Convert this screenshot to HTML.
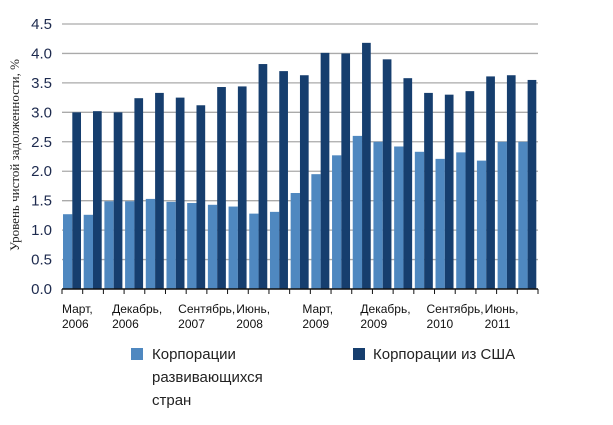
<!DOCTYPE html>
<html><head><meta charset="utf-8"><style>
body{margin:0;background:#fff;}
svg{display:block;font-family:"Liberation Sans",sans-serif;}
</style></head><body>
<svg id="chart" width="613" height="425" viewBox="0 0 613 425" xmlns="http://www.w3.org/2000/svg">
<g id="grid"></g>
<g id="bars"></g>
<g id="axes"></g>
<text transform="translate(19,155) rotate(-90)" text-anchor="middle" font-family="Liberation Serif, serif" font-size="13" fill="#222">Уровень чистой задолженности, %</text>
<g>
<rect x="131" y="348" width="12" height="12" fill="#4f88c0"/>
<text x="152" y="359" font-size="15" fill="#222">Корпорации</text>
<text x="152" y="382" font-size="15" fill="#222">развивающихся</text>
<text x="152" y="405" font-size="15" fill="#222">стран</text>
<rect x="353" y="348" width="12" height="12" fill="#163e6e"/>
<text x="373" y="359" font-size="15" fill="#222">Корпорации из США</text>
</g>
</svg>
<script>
const emerging=[1.27,1.26,1.49,1.49,1.53,1.48,1.46,1.43,1.40,1.28,1.31,1.63,1.95,2.27,2.60,2.50,2.42,2.33,2.21,2.32,2.18,2.50,2.50];
const usCorp=[3.00,3.02,3.00,3.24,3.33,3.25,3.12,3.43,3.44,3.82,3.70,3.63,4.01,4.00,4.18,3.90,3.58,3.33,3.30,3.36,3.61,3.63,3.55];
const yTicks=["0.0","0.5","1.0","1.5","2.0","2.5","3.0","3.5","4.0","4.5"];
const xLabelIdx=[0,3,6,9,12,15,18,21];
const xLabels=[["Март,","2006"],["Декабрь,","2006"],["Сентябрь,","2007"],["Июнь,","2008"],["Март,","2009"],["Декабрь,","2009"],["Сентябрь,","2010"],["Июнь,","2011"]];
const NS="http://www.w3.org/2000/svg";
const x0=62,x1=538,y0=289,yTop=24,yMax=4.5;
const n=emerging.length,gw=(x1-x0)/n;
const ys=v=>y0-(v/yMax)*(y0-yTop);
const xs=i=>x0+i*gw;
function mk(t,a,p){const e=document.createElementNS(NS,t);for(const k in a)e.setAttribute(k,a[k]);p.appendChild(e);return e;}
const grid=document.getElementById('grid'),bars=document.getElementById('bars'),axes=document.getElementById('axes');
yTicks.forEach((t,i)=>{const v=parseFloat(t),y=ys(v);
 if(v>0){const l=mk('line',{x1:x0,x2:x1,y1:y,y2:y,stroke:'#aaaaaa','stroke-width':1.3},grid);
 
 }
 const tx=mk('text',{x:52,y:y+5,'text-anchor':'end','font-size':15,fill:'#1d2a4e'},axes);tx.textContent=t;
 
 
});
for(let i=0;i<n;i++){
 const a=mk('rect',{x:xs(i)+1,y:ys(emerging[i]),width:gw*0.45,height:y0-ys(emerging[i]),fill:'#4f88c0'},bars);
 
 
 const b=mk('rect',{x:xs(i)+1+gw*0.45,y:ys(usCorp[i]),width:gw*0.42,height:y0-ys(usCorp[i]),fill:'#163e6e'},bars);
 
 
}
const ax=mk('line',{x1:x0,x2:x1,y1:y0,y2:y0,stroke:'#111','stroke-width':1.5},axes);


for(let i=0;i<=n;i++){const t=mk('line',{x1:xs(i),x2:xs(i),y1:y0,y2:y0+5,stroke:'#111','stroke-width':1},axes);
 
 }
xLabelIdx.forEach((gi,k)=>{const x=xs(gi)+(k===0?0:(k%2?-12:-8));
 xLabels[k].forEach((s,j)=>{const t=mk('text',{x:x,y:313+j*15,'font-size':12,fill:'#111'},axes);t.textContent=s;
 
 });
});
</script>
</body></html>
